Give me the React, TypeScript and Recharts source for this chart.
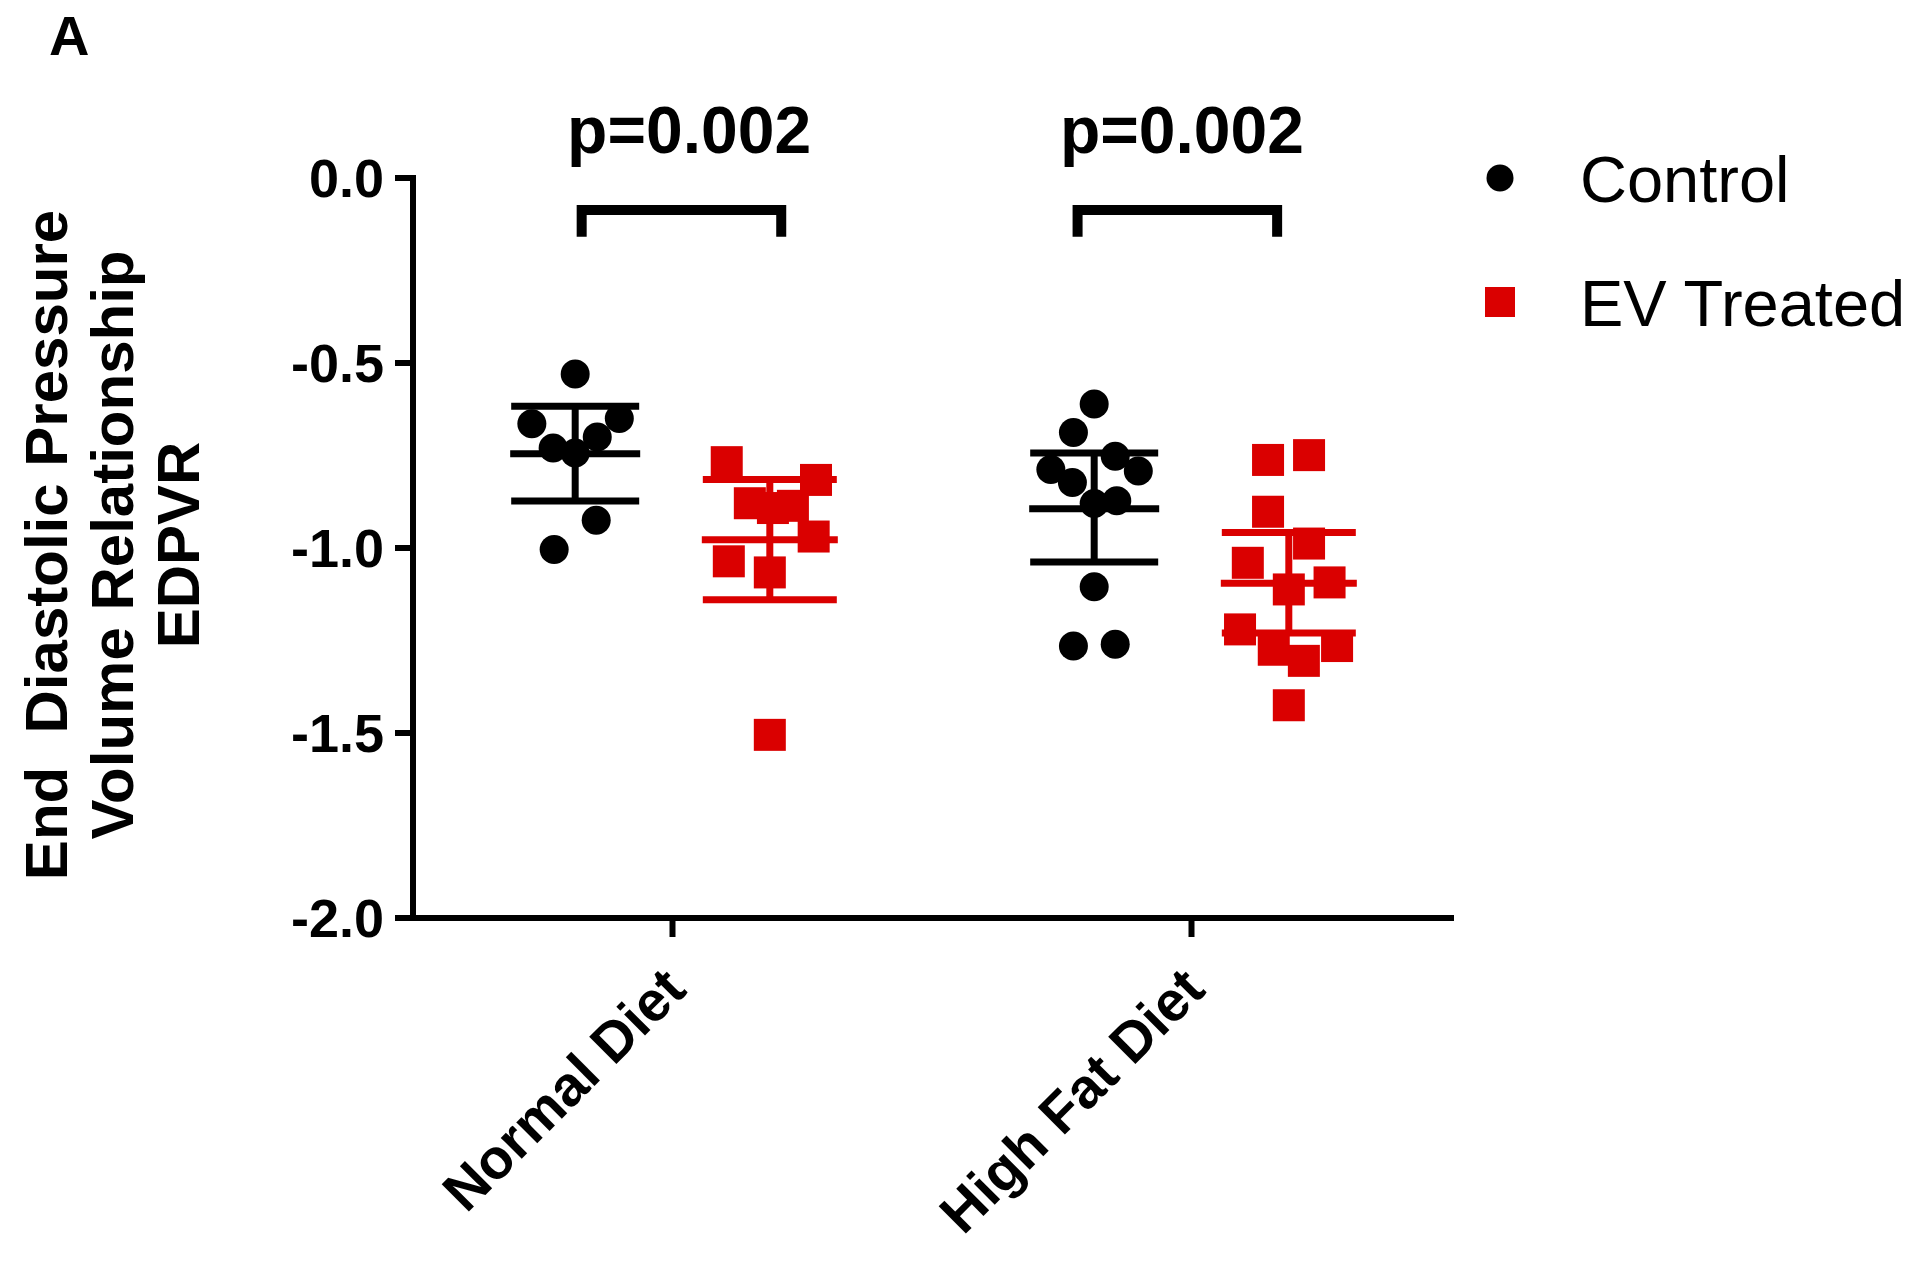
import React from 'react';
import { ScatterChart, Scatter, XAxis, YAxis, ErrorBar, Legend, Customized } from 'recharts';

// ---------- data ----------
const categories = ['Normal Diet', 'High Fat Diet'];
const seriesNames = ['Control', 'EV Treated'];
const seriesColors = ['#000000', '#da0000'];
const yTicks = [0, -0.5, -1.0, -1.5, -2.0];
const xTickValues = [1, 3];
const groupOffset = 0.375;

const normalControlValues = [-0.53, -0.664, -0.65, -0.70, -0.73, -0.743, -0.925, -1.004];
const normalControlJitter = [0, -0.167, 0.17, 0.085, -0.085, 0, 0.081, -0.081];
const normalEvValues = [-0.768, -0.816, -0.879, -0.892, -0.886, -0.969, -1.036, -1.066, -1.505];
const normalEvJitter = [-0.166, 0.178, -0.077, 0.012, 0.089, 0.169, -0.158, 0, 0];
const highFatControlValues = [-0.611, -0.688, -0.752, -0.788, -0.792, -0.823, -0.88, -0.872, -1.105, -1.265, -1.26];
const highFatControlJitter = [0, -0.08, 0.081, -0.167, 0.17, -0.084, 0, 0.087, 0, -0.08, 0.081];
const highFatEvValues = [-0.762, -0.749, -0.902, -0.988, -1.04, -1.112, -1.093, -1.22, -1.275, -1.305, -1.265, -1.425];
const highFatEvJitter = [-0.08, 0.078, -0.08, 0.078, -0.158, 0, 0.157, -0.188, -0.058, 0.058, 0.186, 0];

const controlMean = [-0.745, -0.894];
const controlSdHigh = [-0.617, -0.743];
const controlSdLow = [-0.873, -1.038];
const evMean = [-0.978, -1.095];
const evSdHigh = [-0.815, -0.958];
const evSdLow = [-1.14, -1.23];

const pLabels = ['p=0.002', 'p=0.002'];
const pLabelX = [1.064, 2.963];
const bracketLeft = [0.65, 2.561];
const bracketRight = [1.419, 3.33];
const bracketTop = -0.0865;
const bracketBottom = -0.159;

const yTitleLines = ['End  Diastolic Pressure', 'Volume Relationship', 'EDPVR'];
const panelLabel = 'A';

// ---------- derived tables ----------
const groupX = (cat: number, series: number) => cat * 2 + 1 + (series === 0 ? -groupOffset : groupOffset);
const buildPoints = (values: number[], jitter: number[], cat: number, series: number) =>
  values.map((v, i) => ({ x: groupX(cat, series) + jitter[i], y: v }));

const controlPoints = [
  ...buildPoints(normalControlValues, normalControlJitter, 0, 0),
  ...buildPoints(highFatControlValues, highFatControlJitter, 1, 0),
];
const evPoints = [
  ...buildPoints(normalEvValues, normalEvJitter, 0, 1),
  ...buildPoints(highFatEvValues, highFatEvJitter, 1, 1),
];
const controlSummary = controlMean.map((m, i) => ({
  x: groupX(i, 0), y: m, err: [m - controlSdLow[i], controlSdHigh[i] - m],
}));
const evSummary = evMean.map((m, i) => ({
  x: groupX(i, 1), y: m, err: [m - evSdLow[i], evSdHigh[i] - m],
}));
const brackets = bracketLeft.map((l, i) => [
  { x: l, y: bracketBottom },
  { x: l, y: bracketTop },
  { x: bracketRight[i], y: bracketTop },
  { x: bracketRight[i], y: bracketBottom },
]);
const pLabelPoints = pLabels.map((t, i) => ({ x: pLabelX[i], y: bracketTop, label: t }));

// ---------- styles ----------
const FONT = '"Liberation Sans", Arial, Helvetica, sans-serif';

const CircleShape = (props: any) => {
  const { cx, cy } = props;
  return <circle cx={cx} cy={cy} r={14.5} fill={seriesColors[0]} />;
};
const SquareShape = (props: any) => {
  const { cx, cy } = props;
  return <rect x={cx - 16} y={cy - 16} width={32} height={32} fill={seriesColors[1]} />;
};
const meanShape = (color: string, half: number) => (props: any) => {
  const { cx, cy } = props;
  return <line x1={cx - half} x2={cx + half} y1={cy} y2={cy} stroke={color} strokeWidth={7} />;
};
const EmptyShape = () => <g />;
const PLabelShape = (props: any) => {
  const { cx, cy, payload } = props;
  return (
    <text x={cx} y={cy - 57} textAnchor="middle" fontFamily={FONT} fontWeight="bold" fontSize={66} fill="#000">
      {payload.label}
    </text>
  );
};

const XTick = (props: any) => {
  const { x, y, payload } = props;
  const idx = xTickValues.indexOf(payload.value);
  return (
    <text
      transform={`translate(${x + 16},${y + 55}) rotate(-45)`}
      textAnchor="end"
      fontFamily={FONT}
      fontWeight="bold"
      fontSize={56}
      fill="#000"
    >
      {categories[idx]}
    </text>
  );
};

const TitleLayer = () => (
  <g>
    <text x={49} y={55} fontFamily={FONT} fontWeight="bold" fontSize={56} fill="#000">{panelLabel}</text>
    {yTitleLines.map((t, i) => {
      const bx = [67, 133, 199][i];
      return (
        <text
          key={i}
          transform={`translate(${bx},545) rotate(-90)`}
          textAnchor="middle"
          fontFamily={FONT}
          fontWeight="bold"
          fontSize={60}
          fill="#000"
          style={{ whiteSpace: 'pre' }}
        >
          {t}
        </text>
      );
    })}
  </g>
);

const renderLegend = () => (
  <svg width={450} height={220} style={{ display: 'block' }}>
    {seriesNames.map((name, i) => {
      const cy = i === 0 ? 48 : 172;
      return (
        <g key={name}>
          {i === 0 ? (
            <circle cx={30} cy={cy} r={13.5} fill={seriesColors[0]} />
          ) : (
            <rect x={15} y={cy - 15} width={30} height={30} fill={seriesColors[1]} />
          )}
          <text x={110} y={cy + 24} fontFamily={FONT} fontSize={65} fill="#000">{name}</text>
        </g>
      );
    })}
  </svg>
);

export default function App() {
  return (
    <div style={{ position: 'absolute', left: 0, top: 0, width: 1920, height: 1267, background: '#fff' }}>
      <ScatterChart width={1920} height={1267} margin={{ top: 178, right: 469, bottom: 289, left: 313 }}>
        <XAxis
          type="number"
          dataKey="x"
          domain={[0, 4]}
          ticks={xTickValues}
          interval={0}
          height={60}
          tickSize={19}
          tickMargin={0}
          tick={<XTick />}
          axisLine={{ stroke: '#000', strokeWidth: 6, strokeLinecap: 'square' }}
          tickLine={{ stroke: '#000', strokeWidth: 6 }}
        />
        <YAxis
          type="number"
          dataKey="y"
          domain={[-2, 0]}
          ticks={yTicks}
          interval={0}
          width={100}
          tickSize={18}
          tickMargin={11}
          tickFormatter={(v: number) => v.toFixed(1)}
          tick={{ fontSize: 54, fontWeight: 'bold', fill: '#000', fontFamily: FONT }}
          axisLine={{ stroke: '#000', strokeWidth: 6, strokeLinecap: 'square' }}
          tickLine={{ stroke: '#000', strokeWidth: 6 }}
        />
        <Legend
          layout="vertical"
          align="center"
          verticalAlign="middle"
          wrapperStyle={{ left: 1470, top: 130, width: 450, height: 220 }}
          content={renderLegend}
        />
        <Customized component={TitleLayer} />
        {brackets.map((b, i) => (
          <Scatter
            key={'br' + i}
            data={b}
            shape={EmptyShape}
            line={{ stroke: '#000', strokeWidth: 10, strokeLinejoin: 'miter' }}
            lineType="joint"
            isAnimationActive={false}
            legendType="none"
          />
        ))}
        <Scatter data={pLabelPoints} shape={PLabelShape} isAnimationActive={false} legendType="none" />
        <Scatter name={seriesNames[0]} data={controlPoints} shape={CircleShape} isAnimationActive={false} />
        <Scatter name={seriesNames[1]} data={evPoints} shape={SquareShape} isAnimationActive={false} />
        <Scatter data={controlSummary} shape={meanShape(seriesColors[0], 65)} isAnimationActive={false} legendType="none">
          <ErrorBar dataKey="err" direction="y" width={64} strokeWidth={7} stroke={seriesColors[0]} isAnimationActive={false} />
        </Scatter>
        <Scatter data={evSummary} shape={meanShape(seriesColors[1], 68)} isAnimationActive={false} legendType="none">
          <ErrorBar dataKey="err" direction="y" width={67} strokeWidth={7} stroke={seriesColors[1]} isAnimationActive={false} />
        </Scatter>
      </ScatterChart>
    </div>
  );
}
